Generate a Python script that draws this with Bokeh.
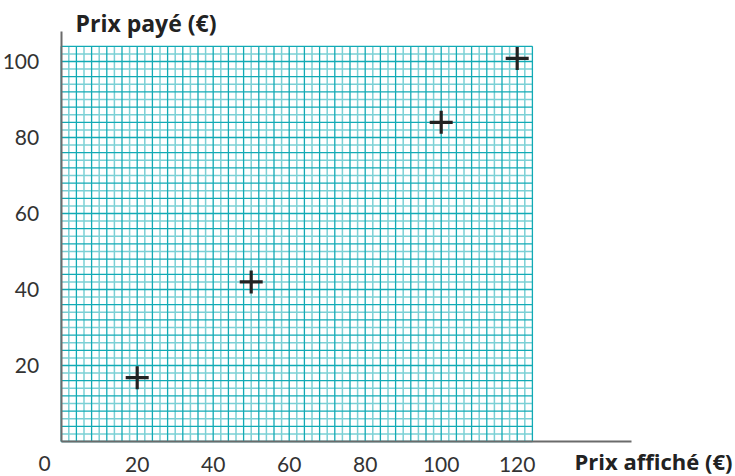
from bokeh.plotting import figure
from bokeh.models import Range1d, LinearAxis, FixedTicker, Label
from bokeh.embed import file_html
from bokeh.resources import INLINE

# ---- data ----
prix_affiche = [20, 50, 100, 120]
prix_paye = [16.8, 42, 84, 100.8]
x_ticks = [0, 20, 40, 60, 80, 100, 120]
y_ticks = [20, 40, 60, 80, 100]
x_title = "Prix affiché (€)"
y_title = "Prix payé (€)"

# ---- layout ----
GRID_X_MAX, GRID_Y_MAX, GRID_STEP = 124, 104, 2
AXIS_X_END, AXIS_Y_END = 150, 108
W, H = 735, 476
S = 3.8                      # px per unit
OX, OY = 60.7, 441           # origin in canvas px
X0 = -OX / S
X1 = X0 + W / S
Y1 = OY / S
Y0 = Y1 - H / S

def dx(px):  # canvas px -> data x
    return (px - OX) / S

def dy(py):  # canvas py -> data y
    return (OY - py) / S

FONT = "Lato"
TFONT = "Open Sans"

p = figure(width=W, height=H, x_range=Range1d(X0, X1), y_range=Range1d(Y0, Y1),
           x_axis_location=None, y_axis_location=None, min_border=0,
           toolbar_location=None, output_backend="svg")
p.outline_line_color = None
p.grid.visible = False
p.background_fill_color = "white"
p.border_fill_color = "white"

# millimetre grid
gx = list(range(0, GRID_X_MAX + 1, GRID_STEP))
gy = list(range(0, GRID_Y_MAX + 1, GRID_STEP))
gx_light = [v for v in gx if v % 4 != 0]
gx_dark = [v for v in gx if v % 4 == 0]
gy_light = [v for v in gy if v % 4 != 0]
gy_dark = [v for v in gy if v % 4 == 0]
LIGHT, DARK = "#7bd0d5", "#12aab5"
p.segment(x0=gx_light, y0=0, x1=gx_light, y1=GRID_Y_MAX, line_color=LIGHT, line_width=1.5)
p.segment(x0=0, y0=gy_light, x1=GRID_X_MAX, y1=gy_light, line_color=LIGHT, line_width=1.5)
p.segment(x0=gx_dark, y0=0, x1=gx_dark, y1=GRID_Y_MAX, line_color=DARK, line_width=1.3)
p.segment(x0=0, y0=gy_dark, x1=GRID_X_MAX, y1=gy_dark, line_color=DARK, line_width=1.3)

# points
p.scatter(prix_affiche, prix_paye, marker="cross", size=23, line_width=3.2, line_color="#222222")

common = dict(axis_line_color="#6b6b6b", axis_line_width=2,
              major_tick_line_color=None, minor_tick_line_color=None,
              major_label_text_font=FONT, major_label_text_font_size="21px",
              major_label_text_color="#333333")
xaxis = LinearAxis(fixed_location=0, bounds=(0, AXIS_X_END),
                   ticker=FixedTicker(ticks=x_ticks[1:]), major_label_standoff=9, **common)
yaxis = LinearAxis(fixed_location=0, bounds=(0, AXIS_Y_END),
                   ticker=FixedTicker(ticks=y_ticks), major_label_standoff=16, **common)
p.add_layout(xaxis, "below")
p.add_layout(yaxis, "left")

p.add_layout(Label(x=dx(44), y=dy(463), text=str(x_ticks[0]), text_align="center",
                   text_baseline="middle", text_font=FONT, text_font_size="21px",
                   text_color="#333333"))
p.add_layout(Label(x=dx(75), y=dy(22), text=y_title, text_align="left",
                   text_baseline="middle", text_font=TFONT, text_font_size="23px",
                   text_font_style="bold", text_color="#222222"))
p.add_layout(Label(x=dx(732), y=dy(460), text=x_title, text_align="right",
                   text_baseline="middle", text_font=TFONT, text_font_size="22px",
                   text_font_style="bold", text_color="#222222"))

open("out.html", "w").write(file_html(p, INLINE))
